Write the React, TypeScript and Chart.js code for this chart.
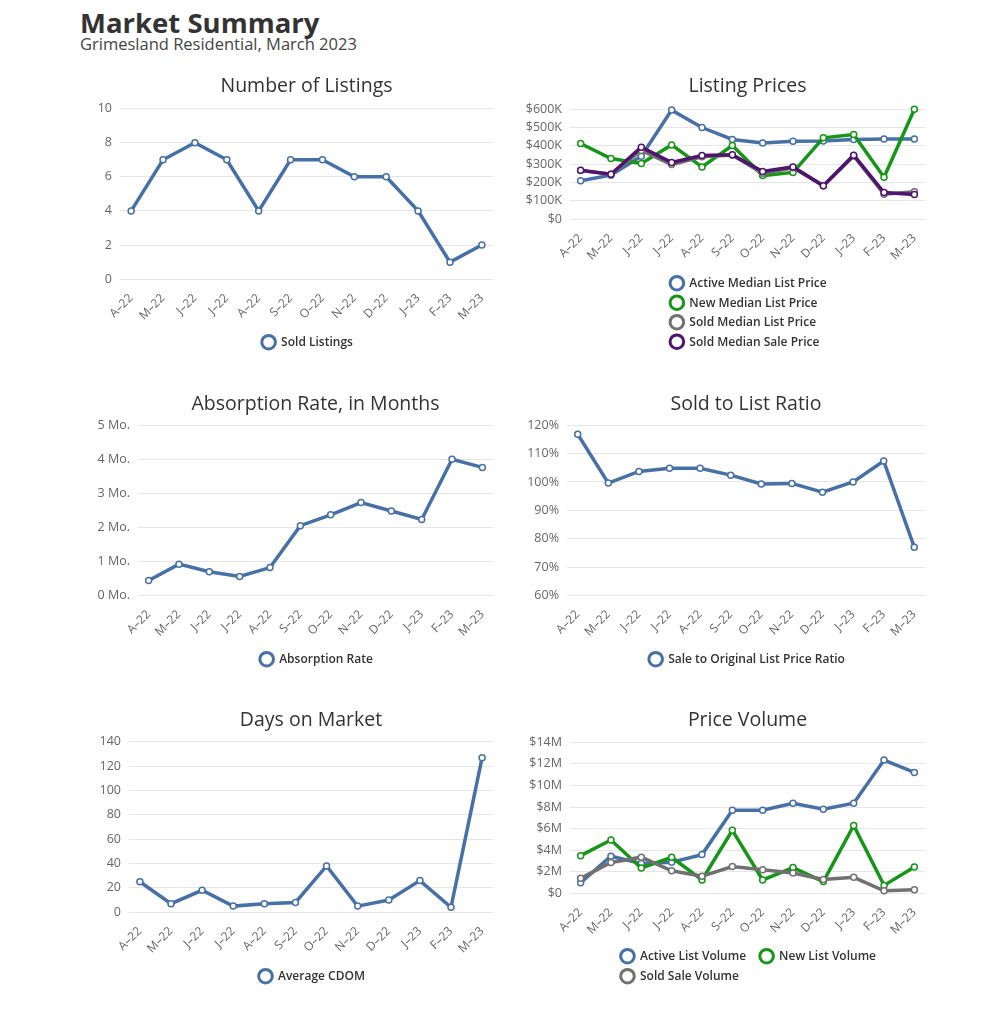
import React, { useEffect, useRef } from 'react';
import { Chart, registerables } from 'chart.js';

Chart.register(...registerables);
Chart.defaults.font.family = '"Open Sans", sans-serif';

const months = ['A–22', 'M–22', 'J–22', 'J–22', 'A–22', 'S–22', 'O–22', 'N–22', 'D–22', 'J–23', 'F–23', 'M–23'];

const soldListings = [4, 7, 8, 7, 4, 7, 7, 6, 6, 4, 1, 2];

const activeMedianListPrice = [210000, 240000, 343000, 595000, 500000, 435000, 416000, 425000, 427000, 435000, 438000, 438000];
const newMedianListPrice = [413000, 331000, 304000, 405000, 285000, 402000, 238000, 255000, 444000, 462000, 229000, 600000];
const soldMedianListPrice = [265000, 245000, 375000, 298000, 340000, 350000, 250000, 280000, 182000, 345000, 136000, 150000];
const soldMedianSalePrice = [267000, 245000, 393000, 309000, 347000, 351000, 260000, 285000, 182000, 349000, 145000, 135000];

const absorptionRate = [0.44, 0.92, 0.7, 0.56, 0.82, 2.05, 2.37, 2.73, 2.48, 2.23, 4.0, 3.76];

const saleToOriginalRatio = [116.8, 99.6, 103.7, 104.8, 104.8, 102.4, 99.3, 99.5, 96.4, 100, 107.4, 77.0];

const averageCdom = [25, 7, 18, 5, 7, 8, 38, 5, 10, 26, 4, 127];

const activeListVolume = [1000000, 3450000, 2780000, 2900000, 3600000, 7700000, 7700000, 8350000, 7800000, 8350000, 12350000, 11200000];
const newListVolume = [3500000, 4950000, 2350000, 3350000, 1250000, 5850000, 1250000, 2400000, 1100000, 6300000, 750000, 2450000];
const soldSaleVolume = [1400000, 2870000, 3360000, 2100000, 1600000, 2500000, 2200000, 1900000, 1300000, 1500000, 250000, 350000];

const BLUE = '#4770a6';
const GREEN = '#169616';
const GRAY = '#717171';
const PURPLE = '#4f146e';

type Series = { label: string; values: number[]; color: string };
type Spec = {
  title: string;
  left: number;
  width: number;
  titleY: number;
  plotTop: number;
  plotBottom: number;
  plotLeft: number;
  plotRight: number;
  canvasBottom: number;
  legendY: number;
  rowH: number;
  rows: number[][];
  series: Series[];
  yMin: number;
  yMax: number;
  yStep: number;
  yFmt: (v: number) => string;
};

const TITLE_SIZE = 19.5;
const TITLE_LH = TITLE_SIZE * 1.2;

const blockLegend = {
  id: 'blockLegend',
  afterDraw(chart: any, _args: any, opts: any) {
    const { ctx, chartArea } = chart;
    const rows: number[][] = opts.rows;
    const gap = 12;
    ctx.save();
    ctx.font = '600 12px "Open Sans", sans-serif';
    const itemW = (i: number) => 21 + ctx.measureText(chart.data.datasets[i].label).width;
    const rowWidths = rows.map((r) => r.reduce((s, i, k) => s + itemW(i) + (k > 0 ? gap : 0), 0));
    const blockW = Math.max(...rowWidths);
    const x0 = (chartArea.left + chartArea.right) / 2 - blockW / 2;
    rows.forEach((r, ri) => {
      let x = x0;
      const y = opts.y + ri * opts.rowH;
      r.forEach((i) => {
        const ds = chart.data.datasets[i];
        ctx.beginPath();
        ctx.arc(x + 8.5, y, 6.8, 0, Math.PI * 2);
        ctx.fillStyle = '#fff';
        ctx.fill();
        ctx.lineWidth = 3;
        ctx.strokeStyle = ds.borderColor;
        ctx.stroke();
        ctx.fillStyle = '#333';
        ctx.textAlign = 'left';
        ctx.textBaseline = 'middle';
        ctx.fillText(ds.label, x + 21, y + 0.5);
        x += itemW(i) + gap;
      });
    });
    ctx.restore();
  },
};

function LineChart({ spec }: { spec: Spec }) {
  const ref = useRef<HTMLCanvasElement>(null);
  const canvasTop = spec.titleY - TITLE_LH / 2;
  const height = spec.canvasBottom - canvasTop;
  useEffect(() => {
    const XH = 50;
    const n = spec.series.length;
    const chart = new Chart(ref.current as HTMLCanvasElement, {
      type: 'line',
      data: {
        datasets: spec.series.map((s, i) => ({
          label: s.label,
          data: s.values.map((v, j) => ({ x: j, y: v })),
          borderColor: s.color,
          backgroundColor: s.color,
          borderWidth: 3.5,
          pointRadius: 3,
          pointBackgroundColor: '#fff',
          pointBorderColor: s.color,
          pointBorderWidth: 1.5,
          tension: 0,
          clip: false as any,
          order: n - 1 - i,
        })),
      },
      options: {
        animation: false,
        responsive: true,
        maintainAspectRatio: false,
        layout: {
          padding: {
            left: 0,
            top: 0,
            right: spec.left + spec.width - spec.plotRight,
            bottom: spec.canvasBottom - spec.plotBottom - XH,
          },
        },
        plugins: {
          legend: { display: false },
          tooltip: { enabled: false },
          title: {
            display: true,
            text: spec.title,
            fullSize: false,
            color: '#333',
            font: { size: TITLE_SIZE, weight: 'normal' },
            padding: { top: 0, bottom: spec.plotTop - canvasTop - TITLE_LH },
          },
          blockLegend: { rows: spec.rows, y: spec.legendY - canvasTop, rowH: spec.rowH },
        } as any,
        scales: {
          x: {
            type: 'linear',
            min: -0.35,
            max: months.length - 1 + 0.35,
            grid: { display: false },
            border: { display: false },
            ticks: {
              stepSize: 1,
              autoSkip: false,
              minRotation: 45,
              maxRotation: 45,
              padding: 4,
              color: '#666',
              font: { size: 12 },
              callback: (v: any) => months[v as number] ?? '',
            },
            afterBuildTicks: (axis: any) => {
              axis.ticks = months.map((_, i) => ({ value: i }));
            },
            afterFit: (s: any) => {
              s.height = XH;
            },
          },
          y: {
            min: spec.yMin,
            max: spec.yMax,
            grid: { color: '#e6e6e6', drawTicks: false },
            border: { display: false },
            ticks: {
              stepSize: spec.yStep,
              padding: 8,
              color: '#666',
              font: { size: 12.5 },
              callback: (v: any) => spec.yFmt(v as number),
            },
            afterFit: (s: any) => {
              s.width = spec.plotLeft - spec.left;
            },
          },
        } as any,
      },
      plugins: [blockLegend as any],
    });
    return () => chart.destroy();
  }, []);
  return (
    <div style={{ position: 'absolute', left: spec.left, top: canvasTop, width: spec.width, height }}>
      <canvas ref={ref} />
    </div>
  );
}

const plain = (v: number) => String(v);
const kFmt = (v: number) => (v === 0 ? '$0' : `$${v / 1000}K`);
const moFmt = (v: number) => `${v} Mo.`;
const pctFmt = (v: number) => `${v}%`;
const mFmt = (v: number) => (v === 0 ? '$0' : `$${v / 1000000}M`);

const LEFT = { left: 80, width: 440 };
const RIGHT = { left: 520, width: 446 };

const specs: Spec[] = [
  {
    title: 'Number of Listings', ...LEFT, titleY: 86.5, plotTop: 108.3, plotBottom: 279, plotLeft: 120, plotRight: 493,
    canvasBottom: 360, legendY: 342, rowH: 19.5, rows: [[0]],
    series: [{ label: 'Sold Listings', values: soldListings, color: BLUE }],
    yMin: 0, yMax: 10, yStep: 2, yFmt: plain,
  },
  {
    title: 'Listing Prices', ...RIGHT, titleY: 86.5, plotTop: 109, plotBottom: 219, plotLeft: 570, plotRight: 925,
    canvasBottom: 360, legendY: 283, rowH: 19.5, rows: [[0], [1], [2], [3]],
    series: [
      { label: 'Active Median List Price', values: activeMedianListPrice, color: BLUE },
      { label: 'New Median List Price', values: newMedianListPrice, color: GREEN },
      { label: 'Sold Median List Price', values: soldMedianListPrice, color: GRAY },
      { label: 'Sold Median Sale Price', values: soldMedianSalePrice, color: PURPLE },
    ],
    yMin: 0, yMax: 600000, yStep: 100000, yFmt: kFmt,
  },
  {
    title: 'Absorption Rate, in Months', ...LEFT, titleY: 404.5, plotTop: 425, plotBottom: 595.3, plotLeft: 138, plotRight: 493,
    canvasBottom: 677, legendY: 659, rowH: 19.5, rows: [[0]],
    series: [{ label: 'Absorption Rate', values: absorptionRate, color: BLUE }],
    yMin: 0, yMax: 5, yStep: 1, yFmt: moFmt,
  },
  {
    title: 'Sold to List Ratio', ...RIGHT, titleY: 404.5, plotTop: 425, plotBottom: 595.3, plotLeft: 567, plotRight: 925,
    canvasBottom: 677, legendY: 659, rowH: 19.5, rows: [[0]],
    series: [{ label: 'Sale to Original List Price Ratio', values: saleToOriginalRatio, color: BLUE }],
    yMin: 60, yMax: 120, yStep: 10, yFmt: pctFmt,
  },
  {
    title: 'Days on Market', ...LEFT, titleY: 720.5, plotTop: 741.7, plotBottom: 912, plotLeft: 129, plotRight: 493,
    canvasBottom: 994, legendY: 976, rowH: 19.5, rows: [[0]],
    series: [{ label: 'Average CDOM', values: averageCdom, color: BLUE }],
    yMin: 0, yMax: 140, yStep: 20, yFmt: plain,
  },
  {
    title: 'Price Volume', ...RIGHT, titleY: 720.5, plotTop: 742, plotBottom: 893.3, plotLeft: 570, plotRight: 925,
    canvasBottom: 994, legendY: 956, rowH: 20, rows: [[0, 1], [2]],
    series: [
      { label: 'Active List Volume', values: activeListVolume, color: BLUE },
      { label: 'New List Volume', values: newListVolume, color: GREEN },
      { label: 'Sold Sale Volume', values: soldSaleVolume, color: GRAY },
    ],
    yMin: 0, yMax: 14000000, yStep: 2000000, yFmt: mFmt,
  },
];

export default function App() {
  return (
    <div style={{ position: 'absolute', left: 0, top: 0, width: 986, height: 1024, background: '#fff', fontFamily: '"Open Sans", sans-serif' }}>
      <div style={{ position: 'absolute', left: 80, top: 9, fontSize: 27.5, lineHeight: '27.5px', fontWeight: 700, color: '#333', whiteSpace: 'nowrap' }}>
        Market Summary
      </div>
      <div style={{ position: 'absolute', left: 80, top: 36, fontSize: 16.5, lineHeight: '16.5px', color: '#444', whiteSpace: 'nowrap' }}>
        Grimesland Residential, March 2023
      </div>
      {specs.map((s, i) => (
        <LineChart key={i} spec={s} />
      ))}
    </div>
  );
}
